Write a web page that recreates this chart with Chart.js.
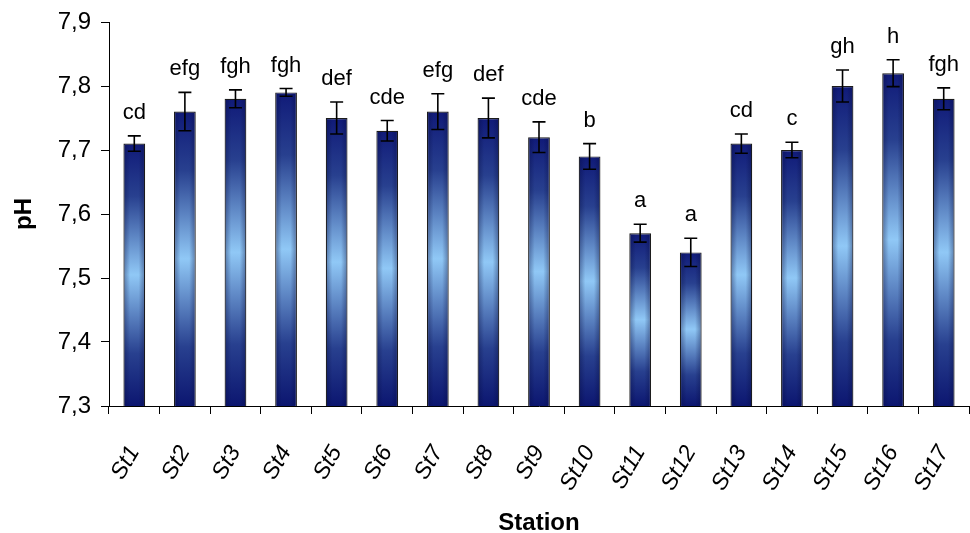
<!DOCTYPE html>
<html>
<head>
<meta charset="utf-8">
<script src="https://cdn.jsdelivr.net/npm/chart.js@4"></script>
<style>
  html, body { margin: 0; padding: 0; background: #fff; }
  #wrap { width: 970px; height: 533px; }
</style>
</head>
<body>
<div id="wrap"><canvas id="phChart" width="970" height="533"></canvas></div>
<script>
const stations = ["St1", "St2", "St3", "St4", "St5", "St6", "St7", "St8", "St9", "St10",
                  "St11", "St12", "St13", "St14", "St15", "St16", "St17"];
const phMean = [7.71, 7.76, 7.78, 7.79, 7.75, 7.73, 7.76, 7.75, 7.72, 7.69,
                7.57, 7.54, 7.71, 7.70, 7.80, 7.82, 7.78];
const phSd = [0.012, 0.03, 0.014, 0.006, 0.025, 0.016, 0.028, 0.031, 0.024, 0.02,
              0.014, 0.022, 0.015, 0.012, 0.025, 0.021, 0.017];
const groups = ["cd", "efg", "fgh", "fgh", "def", "cde", "efg", "def", "cde", "b",
                "a", "a", "cd", "c", "gh", "h", "fgh"];

const FONT = "'Liberation Sans', Arial, sans-serif";

// vertical gradient per bar: dark ends, light middle
function barFill(ctx) {
  const chart = ctx.chart;
  const area = chart.chartArea;
  if (!area || ctx.type !== "data") return "#1a2580";
  const y = chart.scales.y;
  const top = y.getPixelForValue(ctx.raw);
  const bottom = y.bottom;
  const g = chart.ctx.createLinearGradient(0, top, 0, bottom);
  g.addColorStop(0, "#101a78");
  g.addColorStop(0.2, "#28408f");
  g.addColorStop(0.5, "#90c8f6");
  g.addColorStop(0.8, "#28408f");
  g.addColorStop(1, "#0c1670");
  return g;
}

// darker side edges + error bars + group letters
const extras = {
  id: "extras",
  afterDatasetsDraw(chart) {
    const c = chart.ctx;
    const y = chart.scales.y;
    const meta = chart.getDatasetMeta(0);
    meta.data.forEach((bar, i) => {
      const w = bar.width;
      const x0 = bar.x - w / 2;
      const top = bar.y;
      const bottom = y.bottom;
      // side shading
      const h = c.createLinearGradient(x0, 0, x0 + w, 0);
      h.addColorStop(0, "rgba(5,10,60,0.4)");
      h.addColorStop(0.3, "rgba(5,10,60,0.0)");
      h.addColorStop(0.7, "rgba(5,10,60,0.0)");
      h.addColorStop(1, "rgba(5,10,60,0.4)");
      c.save();
      c.fillStyle = h;
      c.fillRect(x0 + 1, top + 1, w - 2, bottom - top - 2);
      c.restore();

      // error bar
      const hi = y.getPixelForValue(phMean[i] + phSd[i]);
      const lo = y.getPixelForValue(phMean[i] - phSd[i]);
      c.save();
      c.strokeStyle = "#000";
      c.lineWidth = 1.6;
      c.beginPath();
      c.moveTo(bar.x, hi); c.lineTo(bar.x, lo);
      c.moveTo(bar.x - 6.5, hi); c.lineTo(bar.x + 6.5, hi);
      c.moveTo(bar.x - 6.5, lo); c.lineTo(bar.x + 6.5, lo);
      c.stroke();

      // letters
      c.fillStyle = "#000";
      c.font = "22px " + FONT;
      c.textAlign = "center";
      c.textBaseline = "alphabetic";
      c.fillText(groups[i], bar.x, hi - 17);
      c.restore();
    });
  }
};

new Chart(document.getElementById("phChart"), {
  type: "bar",
  data: {
    labels: stations,
    datasets: [{
      data: phMean,
      backgroundColor: barFill,
      borderColor: "#1c1c1c",
      borderWidth: 1.2,
      borderSkipped: false,
      barPercentage: 0.43,
      categoryPercentage: 1
    }]
  },
  options: {
    responsive: false,
    animation: false,
    layout: { padding: { top: 22, right: 1, left: 0, bottom: 0 } },
    plugins: {
      legend: { display: false },
      tooltip: { enabled: false }
    },
    scales: {
      x: {
        offset: true,
        grid: { display: true, drawOnChartArea: false, offset: true, tickLength: 8, color: "#000", lineWidth: 1 },
        border: { display: true, color: "#000", width: 1 },
        ticks: {
          autoSkip: false,
          minRotation: 60,
          maxRotation: 60,
          padding: 27,
          color: "#000",
          font: { family: FONT, size: 23, style: "italic" }
        },
        title: {
          display: true,
          text: "Station",
          color: "#000",
          font: { family: FONT, size: 24, weight: "bold" },
          padding: { top: 0, bottom: -5 }
        },
        afterFit(scale) {
          scale.height = 127;
          scale.paddingLeft = 0;
          scale.paddingRight = 0;
        }
      },
      y: {
        min: 7.3,
        max: 7.9,
        grid: { display: true, drawOnChartArea: false, tickLength: 8, color: "#000", lineWidth: 1 },
        border: { display: true, color: "#000", width: 1 },
        ticks: {
          stepSize: 0.1,
          padding: 10,
          color: "#000",
          font: { family: FONT, size: 24 },
          callback: v => v.toFixed(1).replace(".", ",")
        },
        title: {
          display: true,
          text: "pH",
          color: "#000",
          font: { family: FONT, size: 24, weight: "bold" },
          padding: { top: 10, bottom: 0 }
        },
        afterFit(scale) {
          scale.width = 109;
          scale.paddingTop = 0;
          scale.paddingBottom = 0;
        }
      }
    }
  },
  plugins: [extras]
});
</script>
</body>
</html>
